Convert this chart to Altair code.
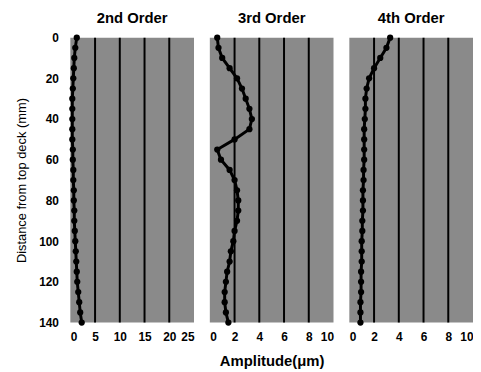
import altair as alt
import pandas as pd

depth = list(range(0, 145, 5))
order2 = [1.3, 1.0, 0.8, 0.7, 0.6, 0.5, 0.4, 0.4, 0.4, 0.4, 0.4, 0.5, 0.5, 0.6, 0.6,
          0.7, 0.7, 0.8, 0.8, 0.9, 1.0, 1.1, 1.2, 1.3, 1.4, 1.6, 1.8, 2.0, 2.3]
order3 = [0.6, 0.7, 1.0, 1.6, 2.2, 2.6, 2.9, 3.2, 3.4, 3.2, 2.0, 0.6, 0.9, 1.6, 2.0,
          2.2, 2.3, 2.3, 2.2, 2.0, 1.9, 1.7, 1.6, 1.4, 1.3, 1.2, 1.2, 1.3, 1.5]
order4 = [3.3, 3.0, 2.5, 2.0, 1.6, 1.4, 1.3, 1.3, 1.25, 1.2, 1.2, 1.2, 1.2, 1.15, 1.15,
          1.1, 1.1, 1.1, 1.05, 1.05, 1.0, 1.0, 1.0, 0.95, 0.95, 0.95, 0.9, 0.9, 0.9]

titles = ["2nd Order", "3rd Order", "4th Order"]
series = [order2, order3, order4]
xmax = [25, 10, 10]
xticks = [[0, 5, 10, 15, 20, 25], [0, 2, 4, 6, 8, 10], [0, 2, 4, 6, 8, 10]]
gridvals = [[5, 10, 15, 20], [2, 4, 6, 8], [2, 4, 6, 8]]
yticks = [0, 20, 40, 60, 80, 100, 120, 140]

FONT = "Liberation Sans"


def panel(i):
    df = pd.DataFrame({"depth": depth, "amp": series[i]})
    xscale = alt.Scale(domain=[0, xmax[i]], nice=False, zero=True)
    yscale = alt.Scale(domain=[0, 140], reverse=True, nice=False)
    xaxis = alt.Axis(values=xticks[i], grid=False, domain=False, ticks=False,
                     labelPadding=9, labelFontSize=12, labelFontWeight="bold",
                     labelFont=FONT, labelColor="black",
                     title="Amplitude(μm)" if i == 1 else None,
                     titleFontSize=15, titleFontWeight="bold", titleFont=FONT,
                     titleColor="black", titlePadding=11)
    if i == 0:
        yaxis = alt.Axis(values=yticks, grid=False, domain=False, ticks=False,
                         labelPadding=12, labelFontSize=12, labelFontWeight="bold",
                         labelFont=FONT, labelColor="black",
                         title="Distance from top deck (mm)", titleFontSize=13,
                         titleFontWeight="normal", titleFont=FONT, titleColor="black",
                         titlePadding=10)
    else:
        yaxis = None
    grid = alt.Chart(pd.DataFrame({"g": gridvals[i]})).mark_rule(
        color="black", strokeWidth=2).encode(
        x=alt.X("g:Q", scale=xscale, axis=xaxis))
    line = alt.Chart(df).mark_line(color="black", strokeWidth=3).encode(
        x=alt.X("amp:Q", scale=xscale, axis=xaxis),
        y=alt.Y("depth:Q", scale=yscale, axis=yaxis),
        order="depth:Q")
    pts = alt.Chart(df).mark_circle(color="black", size=40, opacity=1).encode(
        x=alt.X("amp:Q", scale=xscale, axis=xaxis),
        y=alt.Y("depth:Q", scale=yscale, axis=yaxis))
    return alt.layer(grid, line, pts).properties(
        width=125, height=288,
        title=alt.TitleParams(titles[i], fontSize=15, fontWeight="bold", font=FONT,
                              color="black", offset=6))


chart = alt.hconcat(panel(0), panel(1), panel(2), spacing=16).properties(
    padding={"left": 7, "top": 1, "right": 0, "bottom": 0}
).configure(background="white").configure_view(fill="#8a8a8a", stroke=None)

chart.save("out.html", embed_options={"renderer": "svg", "actions": False})
